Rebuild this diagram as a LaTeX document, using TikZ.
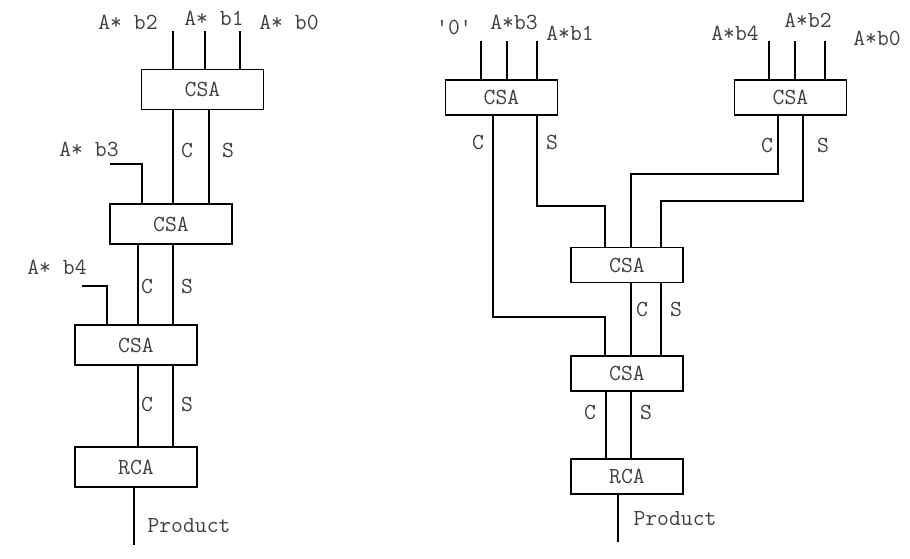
\documentclass[tikz,border=0pt]{standalone}
\usepackage{fontspec}
\usetikzlibrary{positioning}
\tikzset{
  block/.style={draw, line width=1.8pt, minimum width=122pt, minimum height=40pt,
    inner sep=0pt, font=\ttfamily\fontsize{23}{23}\selectfont, text=black!75},
  smallblock/.style={block, minimum width=112pt, minimum height=35pt},
  wire/.style={line width=1.8pt},
  lbl/.style={inner sep=0pt, font=\ttfamily\fontsize{23}{23}\selectfont, text=black!75}
}

\begin{document}
\begin{tikzpicture}[x=1pt,y=-1pt]
    \useasboundingbox (0,0) rectangle (910,558);

    % Arvore da esquerda
    \node[block] (csaA) at (202.5,89.5) {CSA};
    \node[block] (csaB) at (171,224) {CSA};
    \node[block] (csaC) at (136,345) {CSA};
    \node[block] (rcaL) at (136,467) {RCA};

    % Entradas do primeiro CSA
    \coordinate (ab2) at (173,31);
    \coordinate (ab1) at (205,31);
    \coordinate (ab0) at (240,31);
    \node[lbl] (tb2) at (128,22) {A* b2};
    \node[lbl] (tb1) at (214,18) {A* b1};
    \node[lbl] (tb0) at (289,22) {A* b0};
    \draw[wire] (ab2) -- (ab2 |- csaA.north);
    \draw[wire] (ab1) -- (ab1 |- csaA.north);
    \draw[wire] (ab0) -- (ab0 |- csaA.north);

    % Entradas laterais
    \coordinate (ab3) at (110,164);
    \node[lbl] (tb3) at (89,149) {A* b3};
    \draw[wire] (ab3) -| ([xshift=-29pt]csaB.north);
    \coordinate (ab4) at (82,286);
    \node[lbl] (tb4) at (57,267) {A* b4};
    \draw[wire] (ab4) -| ([xshift=-29pt]csaC.north);

    % Carry e soma
    \coordinate (cA) at (173,150);
    \coordinate (sA) at (209,150);
    \node[lbl] (tcA) at (187,150) {C};
    \node[lbl] (tsA) at (228,150) {S};
    \draw[wire] (cA |- csaA.south) -- (cA |- csaB.north);
    \draw[wire] (sA |- csaA.south) -- (sA |- csaB.north);

    \coordinate (cB) at (138,286);
    \coordinate (sB) at (173,286);
    \node[lbl] (tcB) at (147,286) {C};
    \node[lbl] (tsB) at (187,286) {S};
    \draw[wire] (cB |- csaB.south) -- (cB |- csaC.north);
    \draw[wire] (sB |- csaB.south) -- (sB |- csaC.north);

    \coordinate (cC) at (138,404);
    \coordinate (sC) at (173,404);
    \node[lbl] (tcC) at (147,404) {C};
    \node[lbl] (tsC) at (187,404) {S};
    \draw[wire] (cC |- csaC.south) -- (cC |- rcaL.north);
    \draw[wire] (sC |- csaC.south) -- (sC |- rcaL.north);

    % Saida
    \coordinate (pL) at (134,545);
    \node[lbl] (tpL) at (189,526) {Product};
    \draw[wire] (pL |- rcaL.south) -- (pL);

    % Arvore da direita
    \node[smallblock] (csaD) at (501.5,97.5) {CSA};
    \node[smallblock] (csaR) at (790.5,97.5) {CSA};
    \node[smallblock] (csaE) at (627,265) {CSA};
    \node[smallblock] (csaF) at (627,373.5) {CSA};
    \node[smallblock] (rcaR) at (627,476.5) {RCA};

    % Entradas dos CSAs de cima
    \coordinate (zr) at (481,41);
    \coordinate (rb3) at (507,41);
    \coordinate (rb1) at (537,41);
    \node[lbl] (tzr) at (454,27) {\textquotesingle0\textquotesingle};
    \node[lbl] (trb3) at (514,22) {A*b3};
    \node[lbl] (trb1) at (570,33) {A*b1};
    \draw[wire] (zr) -- (zr |- csaD.north);
    \draw[wire] (rb3) -- (rb3 |- csaD.north);
    \draw[wire] (rb1) -- (rb1 |- csaD.north);

    \coordinate (rb4) at (769,41);
    \coordinate (rb2) at (795,41);
    \coordinate (rb0) at (825,41);
    \node[lbl] (trb4) at (735,33) {A*b4};
    \node[lbl] (trb2) at (808,20) {A*b2};
    \node[lbl] (trb0) at (877,38) {A*b0};
    \draw[wire] (rb4) -- (rb4 |- csaR.north);
    \draw[wire] (rb2) -- (rb2 |- csaR.north);
    \draw[wire] (rb0) -- (rb0 |- csaR.north);

    % Carry e soma dos CSAs de cima
    \coordinate (cD) at (493,142);
    \coordinate (sD) at (537,142);
    \coordinate (kC) at (605,317);
    \coordinate (kS) at (605,206);
    \node[lbl] (tcD) at (478,142) {C};
    \node[lbl] (tsD) at (552,142) {S};
    \draw[wire] (cD |- csaD.south) |- (kC) -- (kC |- csaF.north);
    \draw[wire] (sD |- csaD.south) |- (kS) -- (kS |- csaE.north);

    \coordinate (cR) at (778,145);
    \coordinate (sR) at (803,145);
    \coordinate (jC) at (631,174);
    \coordinate (jS) at (661,201);
    \node[lbl] (tcR) at (767,145) {C};
    \node[lbl] (tsR) at (823,145) {S};
    \draw[wire] (cR |- csaR.south) |- (jC) -- (jC |- csaE.north);
    \draw[wire] (sR |- csaR.south) |- (jS) -- (jS |- csaE.north);

    % Carry e soma de baixo
    \coordinate (cE) at (631,309);
    \coordinate (sE) at (661,309);
    \node[lbl] (tcE) at (642,309) {C};
    \node[lbl] (tsE) at (676,309) {S};
    \draw[wire] (cE |- csaE.south) -- (cE |- csaF.north);
    \draw[wire] (sE |- csaE.south) -- (sE |- csaF.north);

    \coordinate (cF) at (606,412);
    \coordinate (sF) at (631,412);
    \node[lbl] (tcF) at (590,412) {C};
    \node[lbl] (tsF) at (646,412) {S};
    \draw[wire] (cF |- csaF.south) -- (cF |- rcaR.north);
    \draw[wire] (sF |- csaF.south) -- (sF |- rcaR.north);

    % Saida
    \coordinate (pR) at (618,542);
    \node[lbl] (tpR) at (675,519) {Product};
    \draw[wire] (pR |- rcaR.south) -- (pR);
\end{tikzpicture}
\end{document}
